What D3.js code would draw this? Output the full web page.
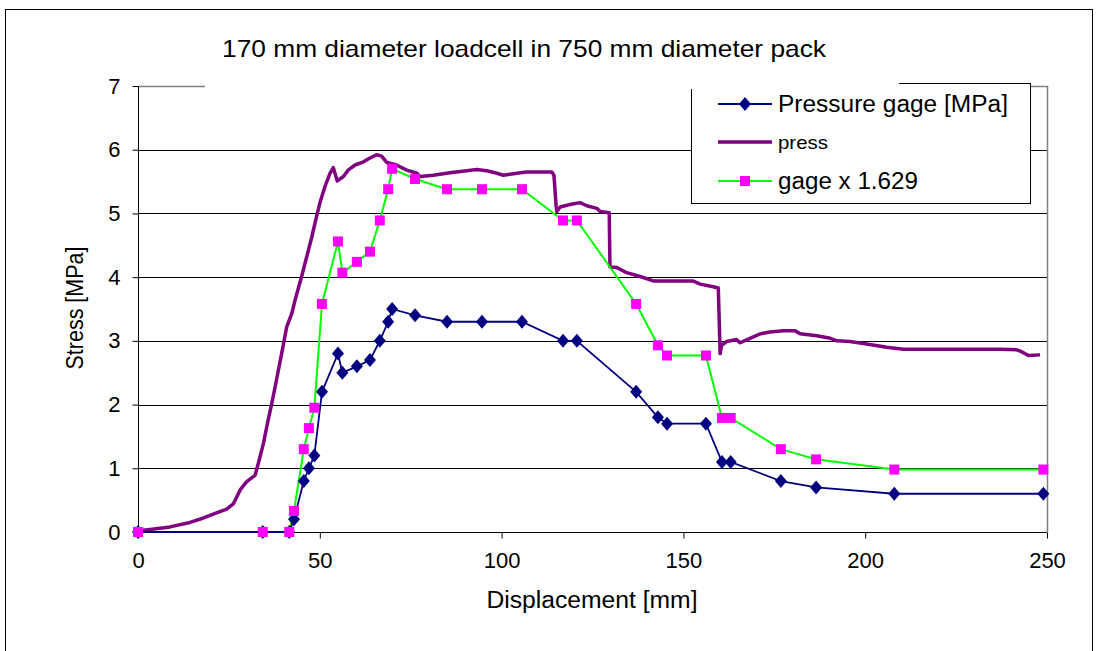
<!DOCTYPE html>
<html lang="en">
<head>
<meta charset="utf-8">
<title>Loadcell stress</title>
<script src="https://d3js.org/d3.v7.min.js"></script>
<style>
  body { margin: 0; background: #fff; }
  svg text { font-family: "Liberation Sans", Arial, sans-serif; fill: #000; }
</style>
</head>
<body>
<div id="chart"></div>
<script>
// data
var gageX = [0, 34.3, 41.6, 42.9, 45.6, 47.0, 48.5, 50.6, 55.0, 56.2, 60.2, 63.8, 66.5, 68.8, 69.9,
  76.2, 85.0, 94.6, 105.6, 116.9, 120.7, 137.0, 143.0, 145.5, 156.2, 160.6, 163.0, 176.8, 186.5, 208.0, 249.0];
var gageY = [0, 0, 0, 0.2, 0.8, 1.0, 1.2, 2.2, 2.8, 2.5, 2.6, 2.7, 3.0, 3.3, 3.5,
  3.4, 3.3, 3.3, 3.3, 3.0, 3.0, 2.2, 1.8, 1.7, 1.7, 1.1, 1.1, 0.8, 0.7, 0.6, 0.6];
// gage x 1.629
var scaledY = [0, 0, 0, 0.33, 1.30, 1.63, 1.95, 3.58, 4.56, 4.07, 4.24, 4.40, 4.89, 5.38, 5.70,
  5.54, 5.38, 5.38, 5.38, 4.89, 4.89, 3.58, 2.93, 2.77, 2.77, 1.79, 1.79, 1.30, 1.14, 0.98, 0.98];

var pressX = [0, 3.3, 8.8, 14.3, 18.0, 21.6, 24.4, 26.2, 28.1, 29.9, 32.2, 33.1, 34.5, 35.8, 36.8,
  38.1, 39.5, 40.2, 40.9, 42.3, 43.2, 45.0, 46.4, 47.8, 49.1, 50.1, 51.4, 52.8, 53.7, 54.8,
  56.5, 57.8, 59.7, 62.0, 63.8, 65.6, 67.0, 68.4, 71.1, 73.9, 76.7, 77.6, 81.2, 85.8, 90.4,
  93.2, 95.9, 98.7, 100.5, 104.2, 106.9, 113.8, 114.4, 115.0, 115.2, 116.1, 118.8, 121.6, 123.4,
  126.2, 127.1, 129.6, 129.8, 131.7, 134.4, 138.1, 141.7, 152.7, 154.6, 158.2, 159.6, 160.1,
  160.5, 161.9, 164.6, 165.6, 168.3, 171.1, 173.8, 177.5, 180.7, 182.1, 186.7, 190.4, 192.2,
  195.8, 200.4, 205.9, 210.5, 237.1, 241.7, 243.0, 244.9, 248.1];
var pressY = [0.02, 0.04, 0.08, 0.15, 0.22, 0.30, 0.36, 0.44, 0.66, 0.79, 0.89, 1.08, 1.39, 1.76, 2.02,
  2.39, 2.80, 3.01, 3.22, 3.43, 3.64, 4.01, 4.32, 4.63, 4.95, 5.18, 5.42, 5.63, 5.72, 5.51,
  5.58, 5.68, 5.76, 5.81, 5.87, 5.92, 5.90, 5.80, 5.76, 5.68, 5.63, 5.58, 5.60, 5.64, 5.67,
  5.69, 5.67, 5.63, 5.60, 5.63, 5.65, 5.65, 5.60, 5.11, 5.03, 5.10, 5.14, 5.17, 5.12,
  5.08, 5.03, 5.01, 4.16, 4.15, 4.07, 4.01, 3.94, 3.94, 3.89, 3.85, 3.83, 2.80,
  2.93, 2.99, 3.02, 2.97, 3.04, 3.11, 3.14, 3.16, 3.16, 3.11, 3.08, 3.04, 3.00,
  2.99, 2.95, 2.90, 2.87, 2.87, 2.86, 2.83, 2.77, 2.78];

var xTicks = [0, 50, 100, 150, 200, 250];
var yTicks = [0, 1, 2, 3, 4, 5, 6, 7];

var width = 1098, height = 651;
var svg = d3.select('#chart').append('svg')
  .attr('width', width)
  .attr('height', height);

// outer chart border
svg.append('rect')
  .attr('x', 5.5).attr('y', 9.5)
  .attr('width', 1087).attr('height', 700)
  .attr('fill', 'none').attr('stroke', '#000');

var x = d3.scaleLinear().domain([0, 250]).range([138, 1047]);
var y = d3.scaleLinear().domain([0, 7]).range([532, 86]);

// gridlines
svg.append('g')
  .selectAll('line')
  .data(yTicks.filter(function(d) { return d > 0 && d < 7; }))
  .enter().append('line')
  .attr('x1', x(0)).attr('x2', x(250))
  .attr('y1', function(d) { return Math.round(y(d)) + 0.5; })
  .attr('y2', function(d) { return Math.round(y(d)) + 0.5; })
  .attr('stroke', '#000').attr('stroke-width', 1);

// plot frame top + right (grey)
svg.append('path')
  .attr('d', 'M' + x(0) + ',' + (y(7) + 0.5) + 'H' + (x(250) + 0.5) + 'V' + y(0))
  .attr('fill', 'none').attr('stroke', '#808080').attr('stroke-width', 1.5);

// axes
var xAxis = svg.append('g')
  .attr('transform', 'translate(0,' + (y(0) + 0.5) + ')')
  .call(d3.axisBottom(x).tickValues(xTicks).tickSize(6).tickPadding(14));
var yAxis = svg.append('g')
  .attr('transform', 'translate(' + (x(0) + 0.5) + ',0)')
  .call(d3.axisLeft(y).tickValues(yTicks).tickFormat(d3.format('d')).tickSize(6).tickPadding(12));
[xAxis, yAxis].forEach(function(a) {
  a.selectAll('path, line').attr('stroke', '#000');
  a.selectAll('text').attr('font-size', 22)
    .style('font-family', '"Liberation Sans", Arial, sans-serif');
});
xAxis.select('.domain').attr('d', 'M' + x(0) + ',0H' + x(250));
yAxis.select('.domain').attr('d', 'M0,' + y(0) + 'V' + y(7));

// press curve
var press = pressX.map(function(v, i) { return [v, pressY[i]]; });
var line = d3.line()
  .x(function(d) { return x(d[0]); })
  .y(function(d) { return y(d[1]); });
svg.append('path')
  .datum(press)
  .attr('d', line)
  .attr('fill', 'none')
  .attr('stroke', '#800080')
  .attr('stroke-width', 3.5)
  .attr('stroke-linejoin', 'round');

// gage x 1.629 (green line, magenta squares)
var scaled = gageX.map(function(v, i) { return [v, scaledY[i]]; });
svg.append('path')
  .datum(scaled)
  .attr('d', line)
  .attr('fill', 'none')
  .attr('stroke', '#00ff00')
  .attr('stroke-width', 2);

// pressure gage (navy line, diamonds)
var gage = gageX.map(function(v, i) { return [v, gageY[i]]; });
svg.append('path')
  .datum(gage)
  .attr('d', line)
  .attr('fill', 'none')
  .attr('stroke', '#000080')
  .attr('stroke-width', 1.8);

var diamond = 'M0,-7L6,0L0,7L-6,0Z';
svg.append('g').selectAll('path')
  .data(gage)
  .enter().append('path')
  .attr('d', diamond)
  .attr('transform', function(d) { return 'translate(' + x(d[0]) + ',' + y(d[1]) + ')'; })
  .attr('fill', '#000080');

svg.append('g').selectAll('rect')
  .data(scaled)
  .enter().append('rect')
  .attr('x', function(d) { return x(d[0]) - 5; })
  .attr('y', function(d) { return y(d[1]) - 5; })
  .attr('width', 10).attr('height', 10)
  .attr('fill', '#ff00ff');

// axis titles
svg.append('text')
  .attr('x', 592).attr('y', 608)
  .attr('text-anchor', 'middle')
  .attr('font-size', 23)
  .attr('textLength', 211).attr('lengthAdjust', 'spacingAndGlyphs')
  .text('Displacement [mm]');
svg.append('text')
  .attr('transform', 'translate(83,308) rotate(-90)')
  .attr('text-anchor', 'middle')
  .attr('font-size', 23)
  .attr('textLength', 123).attr('lengthAdjust', 'spacingAndGlyphs')
  .text('Stress [MPa]');

// legend
var legend = svg.append('g');
legend.append('rect')
  .attr('x', 691.5).attr('y', 83.5)
  .attr('width', 339).attr('height', 120)
  .attr('fill', '#fff').attr('stroke', '#000');
var legendRows = [
  { label: 'Pressure gage [MPa]', color: '#000080', mark: 'diamond', size: 23, len: 230, w: 1.8 },
  { label: 'press', color: '#800080', mark: 'none', size: 19, len: 50, w: 3.5 },
  { label: 'gage x 1.629', color: '#00ff00', mark: 'square', size: 23, len: 140, w: 2 }
];
var rowY = [104, 142, 181];
legendRows.forEach(function(r, i) {
  var g = legend.append('g').attr('transform', 'translate(0,' + rowY[i] + ')');
  g.append('line').attr('x1', 718).attr('x2', 772).attr('y1', 0).attr('y2', 0)
    .attr('stroke', r.color).attr('stroke-width', r.w);
  if (r.mark === 'diamond') {
    g.append('path').attr('d', diamond).attr('transform', 'translate(745,0)').attr('fill', '#000080');
  } else if (r.mark === 'square') {
    g.append('rect').attr('x', 740).attr('y', -5).attr('width', 10).attr('height', 10).attr('fill', '#ff00ff');
  }
  g.append('text').attr('x', 778).attr('y', r.size * 0.36)
    .attr('font-size', r.size)
    .attr('textLength', r.len).attr('lengthAdjust', 'spacingAndGlyphs')
    .text(r.label);
});

// title with white box behind it
svg.append('rect')
  .attr('x', 205).attr('y', 20).attr('width', 694).attr('height', 69)
  .attr('fill', '#fff');
svg.append('text')
  .attr('x', 524).attr('y', 57)
  .attr('text-anchor', 'middle')
  .attr('font-size', 24)
  .attr('textLength', 604).attr('lengthAdjust', 'spacingAndGlyphs')
  .text('170 mm diameter loadcell in 750 mm diameter pack');
</script>
</body>
</html>
